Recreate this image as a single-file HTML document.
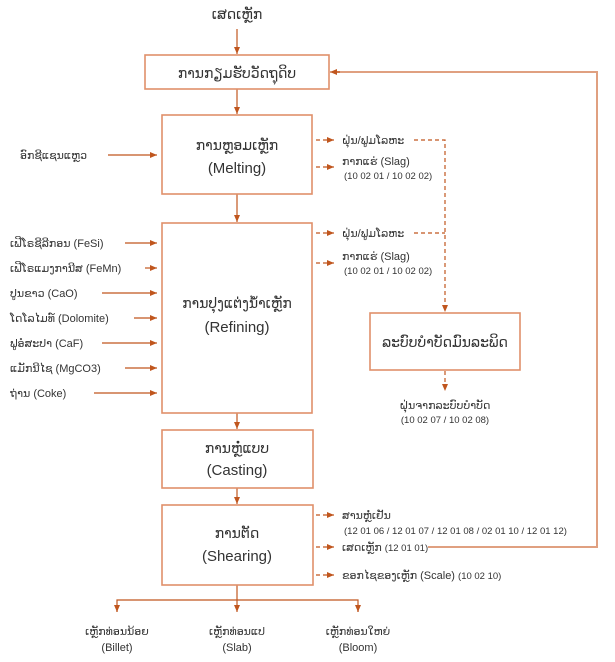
<!DOCTYPE html>
<html><head><meta charset="utf-8">
<style>
html,body{margin:0;padding:0;background:#fff;}
svg{display:block;}
text{font-family:"Liberation Sans","DejaVu Sans",sans-serif;fill:#333;}
</style></head>
<body>
<svg width="615" height="662" viewBox="0 0 615 662" xmlns="http://www.w3.org/2000/svg">
<defs>
<marker id="a" markerWidth="8" markerHeight="8" refX="7" refY="4" orient="auto" markerUnits="userSpaceOnUse">
<path d="M0,1 L7,4 L0,7 z" fill="#c0561e"/></marker>
</defs>
<g stroke="#c0561e" stroke-width="1.2" fill="none">
<line x1="237" y1="29" x2="237" y2="54" marker-end="url(#a)"/>
<line x1="237" y1="89" x2="237" y2="114" marker-end="url(#a)"/>
<line x1="237" y1="194" x2="237" y2="222" marker-end="url(#a)"/>
<line x1="237" y1="413" x2="237" y2="429" marker-end="url(#a)"/>
<line x1="237" y1="488" x2="237" y2="504" marker-end="url(#a)"/>
<line x1="237" y1="585" x2="237" y2="612" marker-end="url(#a)"/>
<polyline points="117,612 117,600 358,600 358,612"/>
<line x1="117" y1="605" x2="117" y2="612" marker-end="url(#a)"/>
<line x1="358" y1="605" x2="358" y2="612" marker-end="url(#a)"/>
<line x1="108" y1="155" x2="157" y2="155" marker-end="url(#a)"/>
<line x1="125" y1="243" x2="157" y2="243" marker-end="url(#a)"/>
<line x1="145" y1="268" x2="157" y2="268" marker-end="url(#a)"/>
<line x1="102" y1="293" x2="157" y2="293" marker-end="url(#a)"/>
<line x1="134" y1="318" x2="157" y2="318" marker-end="url(#a)"/>
<line x1="102" y1="343" x2="157" y2="343" marker-end="url(#a)"/>
<line x1="125" y1="368" x2="157" y2="368" marker-end="url(#a)"/>
<line x1="94" y1="393" x2="157" y2="393" marker-end="url(#a)"/>
<polyline points="428,547 597,547 597,72 334,72" stroke="#e0a080" stroke-width="2"/>
<line x1="340" y1="72" x2="330" y2="72" marker-end="url(#a)"/>
</g>
<g stroke="#c0561e" stroke-width="1.2" fill="none" stroke-dasharray="4,3">
<line x1="316" y1="140" x2="334" y2="140" marker-end="url(#a)"/>
<line x1="316" y1="167" x2="334" y2="167" marker-end="url(#a)"/>
<line x1="316" y1="233" x2="334" y2="233" marker-end="url(#a)"/>
<line x1="316" y1="263" x2="334" y2="263" marker-end="url(#a)"/>
<line x1="316" y1="515" x2="334" y2="515" marker-end="url(#a)"/>
<line x1="316" y1="547" x2="334" y2="547" marker-end="url(#a)"/>
<line x1="316" y1="575" x2="334" y2="575" marker-end="url(#a)"/>
<polyline points="414,140 445,140 445,312" marker-end="url(#a)"/>
<line x1="414" y1="233" x2="445" y2="233"/>
<line x1="445" y1="371" x2="445" y2="391" marker-end="url(#a)"/>
</g>
<g stroke="#e0906a" stroke-width="1.6" fill="#fff">
<rect x="145" y="55" width="184" height="34"/>
<rect x="162" y="115" width="150" height="79"/>
<rect x="162" y="223" width="150" height="190"/>
<rect x="162" y="430" width="151" height="58"/>
<rect x="162" y="505" width="151" height="80"/>
<rect x="370" y="313" width="150" height="57"/>
</g>
<g font-size="14" text-anchor="middle">
<text x="237" y="19">ເສດເຫຼັກ</text>
<text x="237" y="78">ການກຽມຮັບວັດຖຸດິບ</text>
<text x="237" y="150">ການຫຼອມເຫຼັກ</text>
<text x="237" y="173" font-size="15">(Melting)</text>
<text x="237" y="308">ການປຸງແຕ່ງນ້ຳເຫຼັກ</text>
<text x="237" y="332" font-size="15">(Refining)</text>
<text x="237" y="453">ການຫຼໍ່ແບບ</text>
<text x="237" y="475" font-size="15">(Casting)</text>
<text x="237" y="538">ການຕັດ</text>
<text x="237" y="561" font-size="15">(Shearing)</text>
<text x="445" y="347">ລະບົບບຳບັດມົນລະພິດ</text>
</g>
<g font-size="11">
<text x="20" y="159">ອົກຊີແຊນແຫຼວ</text>
<text x="10" y="247">ເຟີໂຣຊີລີກອນ (FeSi)</text>
<text x="10" y="272">ເຟີໂຣແມງການີສ (FeMn)</text>
<text x="10" y="297">ປູນຂາວ (CaO)</text>
<text x="10" y="322">ໂດໂລໄມທ໌ (Dolomite)</text>
<text x="10" y="347">ຟູອໍສະປາ (CaF)</text>
<text x="10" y="372">ແມັກນີໄຊ (MgCO3)</text>
<text x="10" y="397">ຖ່ານ (Coke)</text>
<text x="342" y="144">ຝຸ່ນ/ຟູມໂລຫະ</text>
<text x="342" y="165">ກາກແຮ່ (Slag)</text>
<text x="344" y="179" font-size="9.5">(10 02 01 / 10 02 02)</text>
<text x="342" y="237">ຝຸ່ນ/ຟູມໂລຫະ</text>
<text x="342" y="260">ກາກແຮ່ (Slag)</text>
<text x="344" y="274" font-size="9.5">(10 02 01 / 10 02 02)</text>
<text x="445" y="409" text-anchor="middle">ຝຸ່ນຈາກລະບົບບຳບັດ</text>
<text x="445" y="423" text-anchor="middle" font-size="9.5">(10 02 07 / 10 02 08)</text>
<text x="342" y="519">ສານຫຼໍ່ເຢັນ</text>
<text x="344" y="534" font-size="9.5">(12 01 06 / 12 01 07 / 12 01 08 / 02 01 10 / 12 01 12)</text>
<text x="342" y="551">ເສດເຫຼັກ <tspan font-size="9.5">(12 01 01)</tspan></text>
<text x="342" y="579">ຂອກໄຊຂອງເຫຼັກ (Scale) <tspan font-size="9.5">(10 02 10)</tspan></text>
<g text-anchor="middle">
<text x="117" y="635">ເຫຼັກທ່ອນນ້ອຍ</text>
<text x="117" y="651">(Billet)</text>
<text x="237" y="635">ເຫຼັກທ່ອນແປ</text>
<text x="237" y="651">(Slab)</text>
<text x="358" y="635">ເຫຼັກທ່ອນໃຫຍ່</text>
<text x="358" y="651">(Bloom)</text>
</g>
</g>
</svg>
</body></html>
